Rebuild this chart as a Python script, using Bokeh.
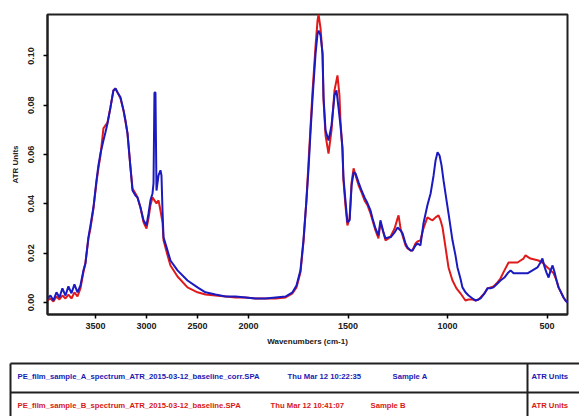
import numpy as np
from bokeh.plotting import figure
from bokeh.layouts import column
from bokeh.models import Range1d, FixedTicker
from bokeh.core.properties import value
from bokeh.embed import file_html
from bokeh.resources import INLINE

# ---------------- data ----------------
blue_wavenumber = [3970,3941,3912,3882,3853,3824,3794,3765,3735,3706,3676,3647,3618,3598,3569,3549,3520,3490,3471,3451,
    3422,3402,3382,3353,3324,3304,3284,3255,3225,3206,3186,3157,3137,3108,3088,3059,3029,3000,2980,2961,
    2941,2931,2922,2912,2902,2882,2863,2853,2843,2833,2794,2765,2696,2598,2500,2422,2324,2225,2127,2029,
    1965,1915,1864,1814,1779,1759,1739,1724,1709,1698,1688,1678,1663,1653,1648,1638,1628,1623,1613,1598,
    1583,1568,1558,1548,1538,1528,1523,1513,1503,1492,1482,1472,1462,1447,1432,1417,1402,1387,1377,1362,
    1347,1337,1322,1312,1296,1286,1266,1251,1236,1226,1211,1201,1186,1176,1161,1151,1136,1121,1101,1085,
    1070,1060,1050,1040,1030,1020,1005,995,975,960,950,935,925,910,894,874,859,844,834,814,
    799,784,769,749,734,714,698,683,668,643,618,598,573,548,533,523,513,503,492,482,
    472,462,452,442,432,417,407,397]
blue_absorbance = [0.0016,0.0028,0.0008,0.0041,0.0020,0.0057,0.0028,0.0065,0.0037,0.0073,0.0041,0.0069,0.0130,0.0158,0.0264,0.0312,0.0385,0.0495,0.0556,0.0604,
    0.0657,0.0690,0.0726,0.0791,0.0860,0.0868,0.0852,0.0832,0.0779,0.0738,0.0686,0.0548,0.0454,0.0434,0.0426,0.0385,0.0333,0.0312,0.0361,0.0414,
    0.0442,0.0483,0.0852,0.0852,0.0454,0.0515,0.0536,0.0515,0.0373,0.0264,0.0211,0.0170,0.0130,0.0089,0.0061,0.0041,0.0032,0.0024,0.0024,0.0020,
    0.0016,0.0016,0.0020,0.0024,0.0041,0.0069,0.0130,0.0252,0.0414,0.0548,0.0698,0.0832,0.1010,0.1091,0.1103,0.1083,0.1010,0.0832,0.0698,0.0657,
    0.0718,0.0840,0.0860,0.0791,0.0718,0.0629,0.0507,0.0414,0.0325,0.0333,0.0475,0.0527,0.0523,0.0487,0.0454,0.0426,0.0402,0.0373,0.0341,0.0300,
    0.0272,0.0333,0.0284,0.0260,0.0264,0.0264,0.0284,0.0304,0.0292,0.0280,0.0239,0.0223,0.0211,0.0211,0.0231,0.0239,0.0231,0.0320,0.0394,0.0442,
    0.0515,0.0576,0.0609,0.0596,0.0556,0.0495,0.0414,0.0361,0.0252,0.0191,0.0142,0.0097,0.0061,0.0041,0.0028,0.0016,0.0008,0.0012,0.0016,0.0037,
    0.0057,0.0057,0.0061,0.0077,0.0089,0.0101,0.0118,0.0130,0.0118,0.0118,0.0118,0.0118,0.0130,0.0142,0.0162,0.0178,0.0146,0.0122,0.0101,0.0130,
    0.0150,0.0122,0.0089,0.0061,0.0045,0.0020,0.0008,0.0000]

red_wavenumber = [3970,3941,3912,3882,3853,3824,3794,3765,3735,3706,3676,3647,3618,3598,3569,3549,3520,3490,3471,3451,
    3422,3402,3382,3353,3324,3304,3284,3255,3225,3206,3186,3157,3137,3108,3088,3059,3029,3000,2980,2961,
    2941,2922,2902,2882,2863,2843,2833,2794,2765,2696,2598,2500,2422,2324,2225,2127,2029,1965,1915,1864,
    1814,1779,1759,1739,1724,1709,1698,1688,1678,1663,1653,1648,1638,1628,1623,1613,1598,1583,1568,1553,
    1543,1538,1528,1523,1513,1503,1492,1482,1472,1462,1447,1432,1417,1402,1387,1377,1362,1347,1337,1322,
    1312,1296,1286,1266,1251,1246,1236,1226,1211,1201,1186,1176,1161,1151,1136,1121,1101,1085,1075,1060,
    1045,1035,1025,1010,995,975,955,935,910,894,874,859,844,834,814,799,784,769,749,734,
    714,693,668,648,633,618,608,593,583,563,543,533,518,503,492,482,467,452,442,432,
    417,407,397]
red_absorbance = [0.0008,0.0016,0.0004,0.0024,0.0012,0.0028,0.0016,0.0032,0.0016,0.0041,0.0024,0.0057,0.0122,0.0162,0.0260,0.0300,0.0381,0.0487,0.0544,0.0596,
    0.0706,0.0718,0.0730,0.0791,0.0860,0.0868,0.0852,0.0828,0.0779,0.0734,0.0686,0.0548,0.0462,0.0442,0.0426,0.0385,0.0325,0.0300,0.0341,0.0394,
    0.0426,0.0414,0.0402,0.0414,0.0373,0.0325,0.0252,0.0191,0.0150,0.0105,0.0061,0.0041,0.0032,0.0028,0.0024,0.0020,0.0020,0.0016,0.0016,0.0016,
    0.0020,0.0037,0.0061,0.0122,0.0243,0.0414,0.0576,0.0718,0.0860,0.1043,0.1144,0.1168,0.1112,0.1002,0.0820,0.0678,0.0604,0.0698,0.0860,0.0921,
    0.0840,0.0738,0.0617,0.0495,0.0394,0.0312,0.0341,0.0487,0.0544,0.0515,0.0475,0.0446,0.0414,0.0394,0.0361,0.0333,0.0292,0.0260,0.0325,0.0284,
    0.0252,0.0260,0.0268,0.0300,0.0341,0.0353,0.0300,0.0272,0.0231,0.0219,0.0211,0.0211,0.0239,0.0247,0.0252,0.0300,0.0345,0.0337,0.0333,0.0345,
    0.0353,0.0333,0.0304,0.0223,0.0142,0.0089,0.0057,0.0037,0.0008,0.0012,0.0012,0.0008,0.0012,0.0020,0.0037,0.0057,0.0061,0.0065,0.0081,0.0097,
    0.0130,0.0162,0.0162,0.0162,0.0170,0.0178,0.0191,0.0183,0.0178,0.0174,0.0170,0.0166,0.0158,0.0146,0.0138,0.0130,0.0118,0.0089,0.0061,0.0045,
    0.0020,0.0008,0.0000]

x_tick_values = [3500, 3000, 2500, 2000, 1500, 1000, 500]
x_tick_labels = ["3500", "3000", "2500", "2000", "1500", "1000", "500"]
y_tick_values = [0.00, 0.02, 0.04, 0.06, 0.08, 0.10]
y_tick_labels = ["0.00", "0.02", "0.04", "0.06", "0.08", "0.10"]

legend_files = ["PE_film_sample_A_spectrum_ATR_2015-03-12_baseline_corr.SPA",
                "PE_film_sample_B_spectrum_ATR_2015-03-12_baseline.SPA"]
legend_dates = ["Thu Mar 12 10:22:35", "Thu Mar 12 10:41:07"]
legend_names = ["Sample A", "Sample B"]
legend_units = ["ATR Units", "ATR Units"]
legend_colors = ["#1a1ab4", "#d81818"]

for a, b in ((blue_wavenumber, blue_absorbance), (red_wavenumber, red_absorbance)):
    if len(a) != len(b):
        raise ValueError(f"length mismatch {len(a)} vs {len(b)}")

# axis with a compressed (x1) / expanded (x1.95) scale split at 2000 cm-1
SPLIT = 2000.0
FACTOR = 1.95
def disp(w):
    w = np.asarray(w, dtype=float)
    return np.where(w >= SPLIT, 4000.0 - w, (4000.0 - SPLIT) + (SPLIT - w) * FACTOR)

FONT = "Liberation Sans"
W = 579

p = figure(width=W, height=356, output_backend="svg", toolbar_location=None,
           x_range=Range1d(float(disp(3970)), float(disp(397))),
           y_range=Range1d(-0.0049, 0.1168),
           min_border_left=47, min_border_right=12, min_border_top=14, min_border_bottom=42)
p.xgrid.visible = False
p.ygrid.visible = False
p.outline_line_color = "#202020"
p.outline_line_width = 2
p.background_fill_color = "white"
p.border_fill_color = "white"

p.line(disp(red_wavenumber), red_absorbance, line_color="#e01a1a", line_width=2)
p.line(disp(blue_wavenumber), blue_absorbance, line_color="#1a1ac0", line_width=2)

xt = [float(v) for v in disp(x_tick_values)]
p.xaxis.ticker = FixedTicker(ticks=xt)
p.xaxis.major_label_overrides = {t: l for t, l in zip(xt, x_tick_labels)}
p.yaxis.ticker = FixedTicker(ticks=y_tick_values)
p.yaxis.major_label_overrides = {t: l for t, l in zip(y_tick_values, y_tick_labels)}
p.yaxis.major_label_orientation = "vertical"
p.xaxis.axis_label = "Wavenumbers (cm-1)"
p.yaxis.axis_label = "ATR Units"
for ax in (p.xaxis, p.yaxis):
    ax.axis_line_width = 2
    ax.axis_line_color = "#202020"
    ax.major_tick_out = 4
    ax.major_tick_in = 0
    ax.minor_tick_out = 0
    ax.minor_tick_in = 0
    ax.major_tick_line_width = 1.5
    ax.major_label_text_font = FONT
    ax.major_label_text_font_size = "9px"
    ax.major_label_text_font_style = "bold"
    ax.major_label_text_color = "#202020"
    ax.axis_label_text_font = FONT
    ax.axis_label_text_font_size = "8px"
    ax.axis_label_text_font_style = "bold"
    ax.axis_label_text_color = "#202020"
p.xaxis.major_label_standoff = 4
p.xaxis.axis_label_standoff = 5
p.yaxis.major_label_standoff = 9
p.yaxis.axis_label_standoff = 6

# ---------------- legend table ----------------
TH = 60
t = figure(width=W, height=TH, output_backend="svg", toolbar_location=None,
           x_range=Range1d(0, W), y_range=Range1d(TH, 0),
           min_border=0, min_border_left=0, min_border_right=0, min_border_top=0, min_border_bottom=0)
try:
    t.frame_align = False
    p.frame_align = False
except Exception:
    pass
t.axis.visible = False
t.grid.visible = False
t.outline_line_color = None
t.segment(x0=[10, 10, 10, 527], y0=[7, 36, 7, 7], x1=[W, W, 10, 527], y1=[7, 36, TH, TH],
          line_color="#202020", line_width=2)
row_y = [20, 49]
TFS = "7.7px"
for i in range(2):
    t.text(x=[17], y=[row_y[i]], text=[legend_files[i]], text_color=legend_colors[i],
           text_font=value(FONT), text_font_size=TFS, text_font_style="bold", text_baseline="middle")
t.text(x=[287, 270], y=row_y, text=legend_dates, text_color=legend_colors,
       text_font=value(FONT), text_font_size=TFS, text_font_style="bold", text_baseline="middle")
t.text(x=[392, 370], y=row_y, text=legend_names, text_color=legend_colors,
       text_font=value(FONT), text_font_size=TFS, text_font_style="bold", text_baseline="middle")
t.text(x=[531, 531], y=row_y, text=legend_units, text_color=legend_colors,
       text_font=value(FONT), text_font_size=TFS, text_font_style="bold", text_baseline="middle")

layout = column(p, t, spacing=0)
open("out.html", "w").write(file_html(layout, INLINE))
